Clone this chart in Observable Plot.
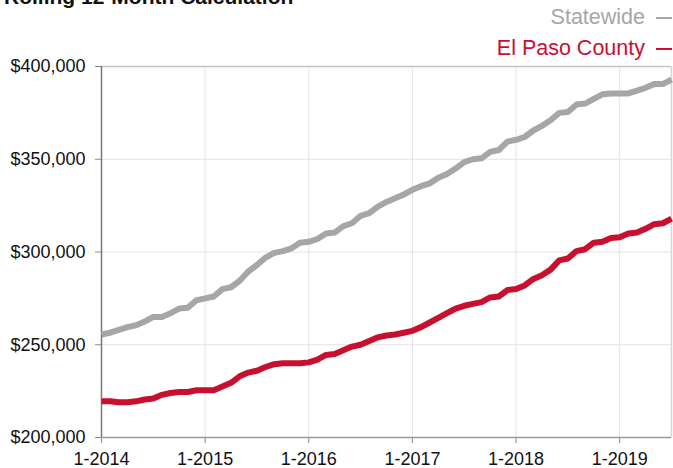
<!DOCTYPE html>
<html>
<head>
<meta charset="utf-8">
<script src="https://cdn.jsdelivr.net/npm/d3@7"></script>
<script src="https://cdn.jsdelivr.net/npm/@observablehq/plot@0.6"></script>
<style>
  html, body { margin: 0; padding: 0; background: #fff; }
  body { width: 673px; height: 468px; overflow: hidden; font-family: "Liberation Sans", Arial, Helvetica, sans-serif; }
  #header { position: relative; height: 56px; }
  #title { position: absolute; left: 4px; top: -14px; font-size: 21px; line-height: 21px; font-weight: bold; color: #111; white-space: nowrap; }
  .leg { position: absolute; right: 1px; font-size: 21.5px; line-height: 24px; white-space: nowrap; }
  .leg .dash { display: inline-block; width: 16px; height: 2px; margin-left: 11px; vertical-align: middle; }
  #chart { position: relative; z-index: 1; }
</style>
</head>
<body>
<div id="header">
  <div id="title">Rolling 12-Month Calculation</div>
  <div class="leg" id="leg0" style="top:5px"></div>
  <div class="leg" id="leg1" style="top:36px"></div>
</div>
<div id="chart"></div>
<script>
// Series names and colours
const seriesNames = ["Statewide", "El Paso County"];
const seriesColors = ["#a6a6a6", "#c8102e"];

// Monthly rolling 12-month median values, Jan 2014 .. Jul 2019 (in dollars)
const statewide = [
  255500, 256500, 258000, 259500, 260500, 262500, 265000, 265000, 267000, 269500, 270000, 274000,
  275000, 276000, 280000, 281000, 284500, 289500, 293000, 297000, 299500, 300500, 302000, 305000,
  305500, 307000, 310000, 310500, 314000, 315500, 319500, 321000, 324500, 327000, 329000, 331000,
  333500, 335500, 337000, 340000, 342000, 345000, 348500, 350000, 350500, 354000, 355000, 359500,
  360500, 362000, 365500, 368000, 371000, 375000, 375500, 379500, 380000, 382500, 385000, 385500,
  385500, 385500, 387000, 388500, 390500, 390500, 393000
];
const elPaso = [
  219500, 219500, 219000, 219000, 219500, 220500, 221000, 223000, 224000, 224500, 224500, 225500,
  225500, 225500, 227500, 229500, 233000, 235000, 236000, 238000, 239500, 240000, 240000, 240000,
  240500, 242000, 244500, 245000, 247000, 249000, 250000, 252000, 254000, 255000, 255500, 256500,
  257500, 259500, 262000, 264500, 267000, 269500, 271000, 272000, 273000, 275500, 276000, 279500,
  280000, 282000, 285500, 287500, 290500, 295500, 296500, 300500, 301500, 305000, 305500, 307500,
  308000, 310000, 310500, 312500, 315000, 315500, 318000
];

// Axis ticks
const xTickPositions = [0, 12, 24, 36, 48, 60];          // month index of each January
const xTickLabels = ["1-2014", "1-2015", "1-2016", "1-2017", "1-2018", "1-2019"];
const yTicks = [200000, 250000, 300000, 350000, 400000];
const yTickLabels = ["$200,000", "$250,000", "$300,000", "$350,000", "$400,000"];

const rows = [];
statewide.forEach((v, i) => rows.push({ month: i, value: v, series: seriesNames[0] }));
elPaso.forEach((v, i) => rows.push({ month: i, value: v, series: seriesNames[1] }));

// legend
[0, 1].forEach(k => {
  const el = document.getElementById("leg" + k);
  el.style.color = seriesColors[k];
  el.innerHTML = seriesNames[k] + '<span class="dash" style="background:' + seriesColors[k] + '"></span>';
});

const chart = Plot.plot({
  width: 673,
  height: 412,
  marginTop: 10,
  marginBottom: 31,
  marginLeft: 101,
  marginRight: 2,
  style: { fontFamily: '"Liberation Sans", Arial, Helvetica, sans-serif', fontSize: "18px", color: "#111", background: "transparent", overflow: "visible" },
  x: { domain: [0, statewide.length - 1], axis: null },
  y: { domain: [200000, 400000], axis: null },
  color: { domain: seriesNames, range: seriesColors },
  marks: [
    // gridlines
    Plot.ruleY(yTicks.slice(1, -1), { stroke: "#e3e3e3", strokeWidth: 1 }),
    Plot.ruleX(xTickPositions.slice(1), { stroke: "#e3e3e3", strokeWidth: 1 }),
    // frame top / right
    Plot.ruleY([400000], { stroke: "#c4c4c4", strokeWidth: 1.5 }),
    Plot.ruleX([statewide.length - 1], { stroke: "#d6d6d6", strokeWidth: 1.5 }),
    // axes
    Plot.axisY({ ticks: yTicks, label: null, tickFormat: d => yTickLabels[yTicks.indexOf(d)], tickSize: 6, tickPadding: 10, stroke: "#888", fill: "#111" }),
    Plot.axisX({ ticks: xTickPositions, label: null, tickFormat: d => xTickLabels[xTickPositions.indexOf(d)], tickSize: 6, tickPadding: 9, stroke: "#888", fill: "#111" }),
    Plot.ruleX([0], { stroke: "#777", strokeWidth: 1.5 }),
    Plot.ruleY([200000], { stroke: "#999", strokeWidth: 1.5 }),
    // lines
    Plot.line(rows, { x: "month", y: "value", z: "series", stroke: "series", strokeWidth: 6, strokeLinejoin: "round", strokeLinecap: "butt" })
  ]
});
document.getElementById("chart").appendChild(chart);
</script>
</body>
</html>
